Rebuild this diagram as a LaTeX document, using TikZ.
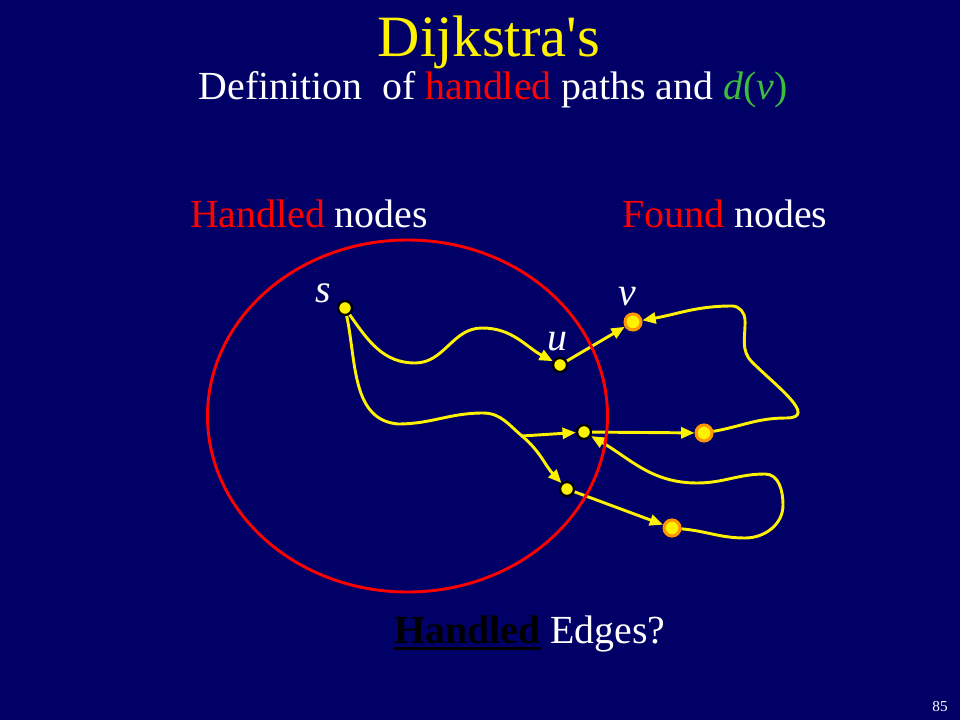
\documentclass[tikz,border=0pt]{standalone}
\usepackage{fontspec}
\setmainfont{Liberation Serif}[Ligatures=TeXOff]
\usetikzlibrary{arrows.meta}
\definecolor{slidebg}{RGB}{0,0,102}
\definecolor{dgreen}{RGB}{60,190,60}
\definecolor{dotorange}{RGB}{255,150,0}
\newcommand{\thickul}[1]{\setbox0=\hbox{#1}\rlap{\rule[-0.17em]{\wd0}{0.07em}}\box0}
\begin{document}
\begin{tikzpicture}[
    x=0.03cm, y=0.03cm,
    >={Triangle[length=0.4cm,width=0.33cm]},
    handled/.style={circle, draw=black, fill=yellow, line width=2pt, minimum size=0.42cm, inner sep=0pt},
    found/.style={circle, draw=dotorange, fill=yellow, line width=2.6pt, minimum size=0.48cm, inner sep=0pt},
    yedge/.style={->, draw=yellow, line width=2.5pt},
    txt/.style={text=white, anchor=base, inner sep=0pt, font=\fontsize{34}{40}\selectfont}
]
    % Background
    \fill[slidebg] (0,0) rectangle (960,720);

    % Titles
    \node[txt, text=yellow, font=\fontsize{50}{60}\selectfont] (title) at (489,663) {Dijkstra's};
    \node[txt] (subtitle) at (493,620) {Definition\ \ of \textcolor{red}{handled} paths and \textcolor{dgreen}{\textit{d}(\textit{v})}};
    \node[txt] (hlabel) at (309,492) {\textcolor{red}{Handled} nodes};
    \node[txt] (flabel) at (725,492) {\textcolor{red}{Found} nodes};

    % Handled nodes
    \node[handled] (s) at (345,412) {};
    \node[handled] (u) at (560,355) {};
    \node[handled] (a) at (584,288) {};
    \node[handled] (b) at (567,231) {};

    % Found nodes
    \node[found] (v) at (633,398) {};
    \node[found] (c) at (704,287) {};
    \node[found] (d) at (672,192) {};

    % Node labels
    \node[txt] (slabel) at (323,417) {\textit{s}};
    \node[txt] (ulabel) at (557,370) {\textit{u}};
    \node[txt] (vlabel) at (627,414) {\textit{v}};

    % Paths
    \coordinate (fork) at (522,284);
    \draw[yedge] (s) to[out=-55,in=180] (415,357) to[out=0,in=180] (482,392) to[out=0,in=152] (u);
    \draw[yedge] (s) to[out=-78,in=175] (398,296) to[out=0,in=180] (483,307) to[out=0,in=140] (fork) to[out=-40,in=133] (b);
    \draw[yedge] (fork) -- (a);
    \draw[yedge] (u) -- (v);
    \draw[yedge] (a) -- (c);
    \draw[yedge] (b) -- (d);
    \draw[yedge] (c) to[out=10,in=180] (786,302) to[out=0,in=-45,looseness=1.3] (752,358)
        to[out=135,in=-88] (745,400) to[out=92,in=0] (732,414) to[out=180,in=10] (v);
    \draw[yedge] (d) to[out=-5,in=180] (745,182) to[out=0,in=-90] (783,215)
        to[out=90,in=0] (765,246) to[out=180,in=0] (697,237) to[out=180,in=-30] (a);

    % Handled region
    \draw[red, line width=2.5pt] (407.5,304) ellipse [x radius=200, y radius=176];

    % Question
    \node[txt] (question) at (530,77) {\textcolor{black}{\thickul{\textbf{Handled}}} Edges?};
    \node[txt, font=\fontsize{13}{15}\selectfont] (page) at (940,9) {85};
\end{tikzpicture}
\end{document}
